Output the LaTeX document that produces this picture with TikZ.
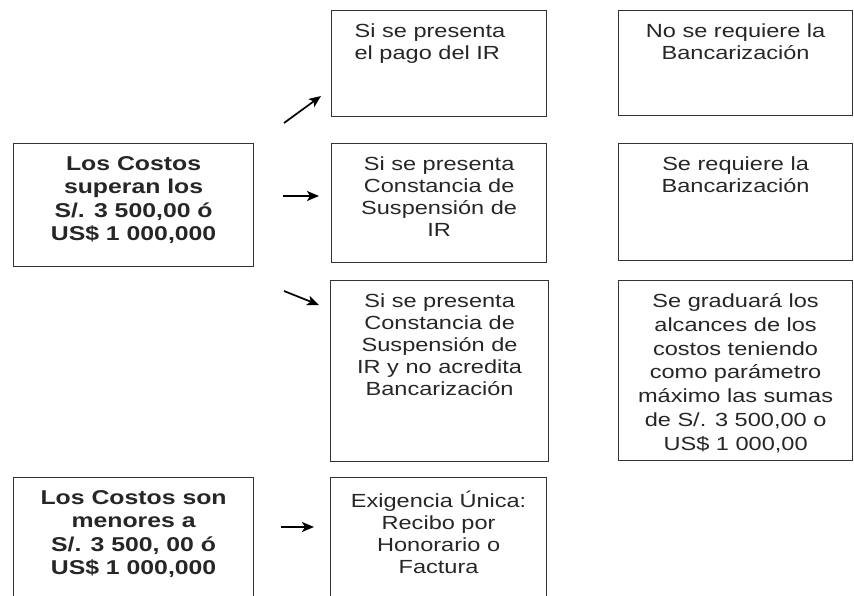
\documentclass[tikz,border=0pt]{standalone}
\usepackage{fontspec}
\setmainfont{Liberation Sans}[FakeStretch=1.24]
\usetikzlibrary{arrows.meta}

% box with its text set at the top
\newcommand{\caja}[4][\centering]{\parbox[c][#2][t]{#3}{\vspace*{13pt}#1#4}}

\begin{document}
\begin{tikzpicture}[x=1pt,y=-1pt,->,>={Stealth[length=12pt,width=10pt,inset=3pt]},
  marco/.style={draw=black!80,line width=1.2pt,inner sep=0pt,anchor=north west,
    text=black!85,font=\fontsize{19}{22}\selectfont},
  marcob/.style={marco,font=\fontsize{20}{23.3}\selectfont\bfseries},
  flecha/.style={line width=1.7pt,black}]
  \useasboundingbox (0,0) rectangle (854,595);
  \clip (0,0) rectangle (854,595);
  % left column
  \node[marcob] (L1) at (13,143) {\caja{123pt}{240pt}{Los Costos\\ superan los\\ S/. 3 500,00 ó\\ US\$ 1 000,000}};
  \node[marcob] (L2) at (13,477) {\caja{140pt}{240pt}{Los Costos son\\ menores a\\ S/. 3 500, 00 ó\\ US\$ 1 000,000}};
  % middle column
  \node[marco] (M1) at (331,10) {\caja[\raggedright\leftskip=23pt\relax]{106pt}{215pt}{Si se presenta\\ el pago del IR}};
  \node[marco] (M2) at (331,143) {\caja{119pt}{215pt}{Si se presenta\\ Constancia de\\ Suspensión de\\ IR}};
  \node[marco] (M3) at (330,280) {\caja{181pt}{218pt}{Si se presenta\\ Constancia de\\ Suspensión de\\ IR y no acredita\\ Bancarización}};
  \node[marco] (M4) at (330,477) {\caja{140pt}{216pt}{Exigencia Única:\\ Recibo por\\ Honorario o\\ Factura}};
  % right column
  \node[marco] (R1) at (618,10) {\caja{105pt}{234pt}{No se requiere la\\ Bancarización}};
  \node[marco] (R2) at (618,143) {\caja{117pt}{234pt}{Se requiere la\\ Bancarización}};
  \node[marco,font=\fontsize{19}{23.8}\selectfont] (R3) at (618,280) {\caja{180pt}{234pt}{Se graduará los\\ alcances de los\\ costos teniendo\\ como parámetro\\ máximo las sumas\\ de S/. 3 500,00 o\\ US\$ 1 000,00}};
  % arrows
  \coordinate (a1) at (284,123);
  \coordinate (b1) at (321,96);
  \coordinate (a2) at (283,196);
  \coordinate (b2) at (319,196);
  \coordinate (a3) at (284,291);
  \coordinate (b3) at (319,305);
  \coordinate (a4) at (281,527);
  \coordinate (b4) at (314,527);
  \draw[flecha] (a1) -- (b1);
  \draw[flecha] (a2) -- (b2);
  \draw[flecha] (a3) -- (b3);
  \draw[flecha] (a4) -- (b4);
\end{tikzpicture}
\end{document}
